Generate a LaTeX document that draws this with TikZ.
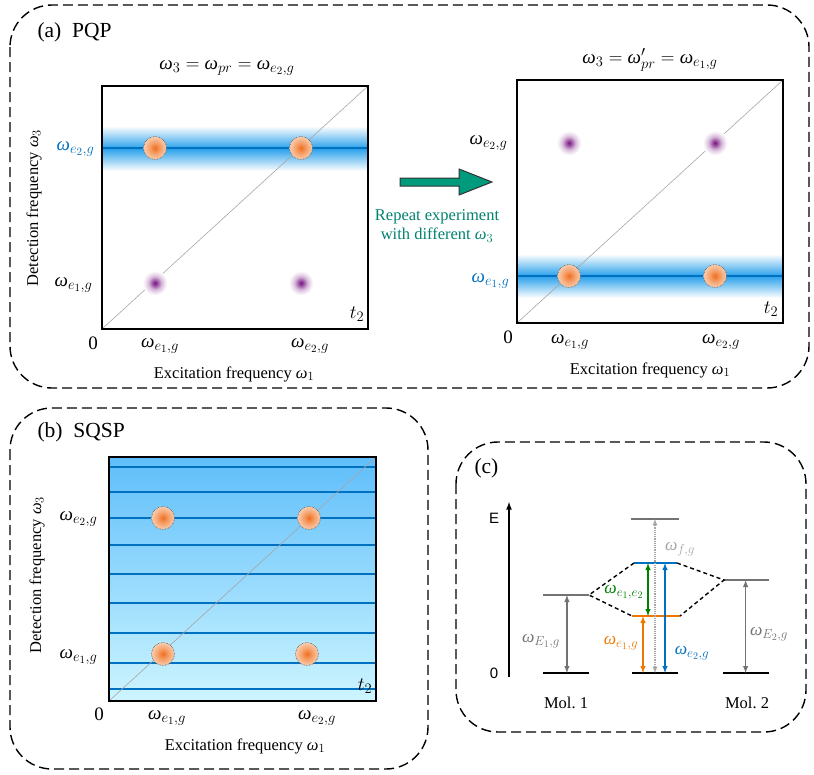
\RequirePackage{fix-cm}
\documentclass[tikz,border=0pt]{standalone}
\usepackage{fontspec}
\setmainfont{Liberation Serif}
\newfontfamily\arialf{Liberation Sans}
\usetikzlibrary{arrows, calc}

\DeclareMathSizes{19}{19}{14.5}{11}
\DeclareMathSizes{17.5}{17.5}{13}{10}
\DeclareMathSizes{16.5}{16.5}{12.5}{9.5}
\newcommand{\om}{\mbox{\itshape ω}}

\definecolor{wblue}{RGB}{0,112,192}
\definecolor{band}{RGB}{40,160,235}
\definecolor{dotor}{RGB}{240,110,30}
\definecolor{dotpe}{RGB}{250,205,175}
\definecolor{purp}{RGB}{120,20,130}
\definecolor{tealc}{RGB}{0,155,125}
\definecolor{tealt}{RGB}{0,130,110}
\definecolor{worange}{RGB}{240,120,0}
\definecolor{wgreen}{RGB}{0,128,0}
\definecolor{wgray}{RGB}{115,115,115}
\definecolor{lgray}{RGB}{165,165,165}
\definecolor{sqtop}{RGB}{95,190,250}
\definecolor{sqbot}{RGB}{205,245,255}

\pgfdeclareradialshading{peakshade}{\pgfpoint{0bp}{0bp}}{color(0bp)=(dotor); color(10bp)=(dotor!55!dotpe); color(25bp)=(dotpe); color(50bp)=(dotpe)}
\pgfdeclareradialshading{crossshade}{\pgfpoint{0bp}{0bp}}{color(0bp)=(purp); color(5bp)=(purp!75); color(13bp)=(purp!30); color(20bp)=(purp!10); color(25bp)=(white); color(50bp)=(white)}

\tikzstyle{panel} = [dash pattern=on 10pt off 5pt, line width=1.4pt, rounded corners=42pt]
\tikzstyle{frame} = [line width=1.8pt]
\tikzstyle{diag} = [black!35, line width=0.6pt]
\tikzstyle{peak} = [circle, minimum size=23pt, shading=peakshade, draw=black!70, densely dotted, line width=0.6pt]
\tikzstyle{cross} = [circle, minimum size=25pt, shading=crossshade]
\tikzstyle{lab} = [anchor=west, font=\fontsize{21.5}{24}\selectfont]
\tikzstyle{wl} = [font=\fontsize{19}{22}\selectfont]
\tikzstyle{el} = [font=\fontsize{17.5}{20}\selectfont]
\tikzstyle{lev} = [line width=1.6pt]
\tikzstyle{arrow} = [line width=1.4pt, <->, >=latex]
\tikzstyle{bandshade} = [top color=white, bottom color=white, middle color=band]

\begin{document}
\begin{tikzpicture}[x=1pt, y=-1pt, font=\fontsize{16.5}{19}\selectfont]
\useasboundingbox (0,0) rectangle (814,774);

% dashed panels
\draw [panel] (10,5) rectangle (809,388);
\draw [panel] (10,408) rectangle (428,769);
\draw [panel] (456,442) rectangle (806,732);
\node (la) [lab] at (34,32) {(a)\enspace PQP};
\node (lb) [lab] at (34,432) {(b)\enspace SQSP};
\node (lc) [lab] at (471,468) {(c)};

% (a) first spectrum
\shade [bandshade] (102,126) rectangle (368,171);
\draw [wblue, line width=1.3pt] (102,148) -- (368,148);
\draw [diag] (102,329) -- (368,86);
\node (c1) [cross] at (155,283) {};
\node (c2) [cross] at (301,283) {};
\node (p1) [peak] at (155,148) {};
\node (p2) [peak] at (301,148) {};
\draw [frame] (102,86) rectangle (368,329);
\node (atl) [wl] at (227,68) {$\om_3=\om_{pr}=\om_{e_2,g}$};
\node (ay2) [wl, anchor=east, text=wblue] at (98,149) {$\om_{e_2,g}$};
\node (ay1) [wl, anchor=east] at (96,285) {$\om_{e_1,g}$};
\node (at) [wl] at (357,314) {$t_2$};
\node (a0) [wl] at (93,343) {0};
\node (ax1) [wl] at (160,346) {$\om_{e_1,g}$};
\node (ax2) [wl] at (310,346) {$\om_{e_2,g}$};
\node (axl) at (234,374) {Excitation frequency $\om_1$};
\node (ayl) [rotate=90] at (34,208) {Detection frequency $\om_3$};

% repeat arrow
\filldraw [fill=tealc, draw=black!80, line width=1pt] (400,178) -- (459,178) -- (459,169) -- (492,182) -- (459,195) -- (459,186) -- (400,186) -- cycle;
\node (rep) [align=center, text=tealt] at (437,226) {Repeat experiment\\with different $\om_3$};

% (a) second spectrum
\shade [bandshade] (517,254) rectangle (783,298);
\draw [wblue, line width=1.3pt] (517,276) -- (783,276);
\draw [diag] (517,323) -- (783,80);
\node (c3) [cross] at (569,143) {};
\node (c4) [cross] at (715,143) {};
\node (p3) [peak] at (569,276) {};
\node (p4) [peak] at (715,276) {};
\draw [frame] (517,80) rectangle (783,323);
\node (btl) [wl] at (650,60) {$\om_3=\om'_{pr}=\om_{e_1,g}$};
\node (by2) [wl, anchor=east] at (511,143) {$\om_{e_2,g}$};
\node (by1) [wl, anchor=east, text=wblue] at (513,281) {$\om_{e_1,g}$};
\node (bt) [wl] at (771,309) {$t_2$};
\node (b0) [wl] at (508,337) {0};
\node (bx1) [wl] at (570,342) {$\om_{e_1,g}$};
\node (bx2) [wl] at (721,342) {$\om_{e_2,g}$};
\node (bxl) at (650,370) {Excitation frequency $\om_1$};

% (b) SQSP spectrum
\shade [top color=sqtop, bottom color=sqbot] (109,457) rectangle (376,701);
\foreach \y in {467,492,518,545,574,603,633,663,689}
  \draw [wblue, line width=1.1pt] (109,\y) -- (376,\y);
\draw [diag] (109,701) -- (376,457);
\node (q1) [peak] at (163,518) {};
\node (q2) [peak] at (309,518) {};
\node (q3) [peak] at (163,654) {};
\node (q4) [peak] at (307,654) {};
\draw [frame] (109,457) rectangle (376,701);
\node (cy2) [wl, anchor=east] at (101,519) {$\om_{e_2,g}$};
\node (cy1) [wl, anchor=east] at (101,657) {$\om_{e_1,g}$};
\node (ct) [wl] at (365,686) {$t_2$};
\node (c0) [wl] at (99,714) {0};
\node (cx1) [wl] at (167,718) {$\om_{e_1,g}$};
\node (cx2) [wl] at (317,718) {$\om_{e_2,g}$};
\node (cxl) at (245,746) {Excitation frequency $\om_1$};
\node (cyl) [rotate=90] at (37,575) {Detection frequency $\om_3$};

% (c) level scheme
\coordinate (E0) at (509,677);
\coordinate (Etop) at (509,502);
\coordinate (g1l) at (543,673); \coordinate (g1r) at (589,673);
\coordinate (E1l) at (543,595); \coordinate (E1r) at (589,595);
\coordinate (gcl) at (632,673); \coordinate (gcr) at (678,673);
\coordinate (e1l) at (632,616); \coordinate (e1r) at (680,616);
\coordinate (e2l) at (634,563); \coordinate (e2r) at (677,563);
\coordinate (fl) at (631,519);  \coordinate (fr) at (679,519);
\coordinate (E2l) at (724,580); \coordinate (E2r) at (769,580);
\coordinate (g2l) at (723,673); \coordinate (g2r) at (769,673);
\coordinate (m1x) at ($(E1l)!0.52!(E1r)$);
\coordinate (m2x) at ($(E2l)!0.48!(E2r)$);

\draw [line width=1.6pt, ->, >=latex] (E0) -- (Etop);
\node (eE) [font=\arialf\fontsize{15}{17}\selectfont] at (494,518) {E};
\node (e0) [font=\arialf\fontsize{15}{17}\selectfont] at (494,673) {0};

\draw [lev] (g1l) -- (g1r);
\draw [lev] (gcl) -- (gcr);
\draw [lev] (g2l) -- (g2r);
\draw [lev, wgray] (E1l) -- (E1r);
\draw [lev, wgray] (E2l) -- (E2r);
\draw [lev, wgray] (fl) -- (fr);
\draw [lev, worange] (e1l) -- (e1r);
\draw [lev, wblue] (e2l) -- (e2r);
\draw [line width=1.4pt, dash pattern=on 4pt off 3pt] (e2l) -- (E1r) -- (e1l);
\draw [line width=1.4pt, dash pattern=on 4pt off 3pt] (e2r) -- (E2l) -- (e1r);

\draw [arrow, wgray] (m1x) -- (m1x |- g1l);
\draw [arrow, wgray] (m2x) -- (m2x |- g2l);
\draw [arrow, worange] ([xshift=11]e1l) -- ([xshift=11]gcl);
\draw [arrow, wgreen] ([xshift=14]e2l) -- ([xshift=14]e2l |- e1l);
\draw [arrow, lgray, line width=1.2pt, densely dotted] ([xshift=23]gcl) -- ([xshift=23]gcl |- fl);
\draw [arrow, wblue] ([xshift=31]e2l) -- ([xshift=31]e2l |- gcl);

\node (lE1) [el, text=wgray] at (541,641) {$\om_{E_1,g}$};
\node (lE2) [el, text=wgray] at (769,634) {$\om_{E_2,g}$};
\node (lf) [el, text=lgray] at (680,549) {$\om_{f,g}$};
\node (le12) [el, text=wgreen] at (624,592) {$\om_{e_1,e_2}$};
\node (le1) [el, text=worange] at (621,643) {$\om_{e_1,g}$};
\node (le2) [el, text=wblue] at (692,653) {$\om_{e_2,g}$};
\node (m1) at (566,703) {Mol.~1};
\node (m2) at (747,703) {Mol.~2};
\end{tikzpicture}
\end{document}
